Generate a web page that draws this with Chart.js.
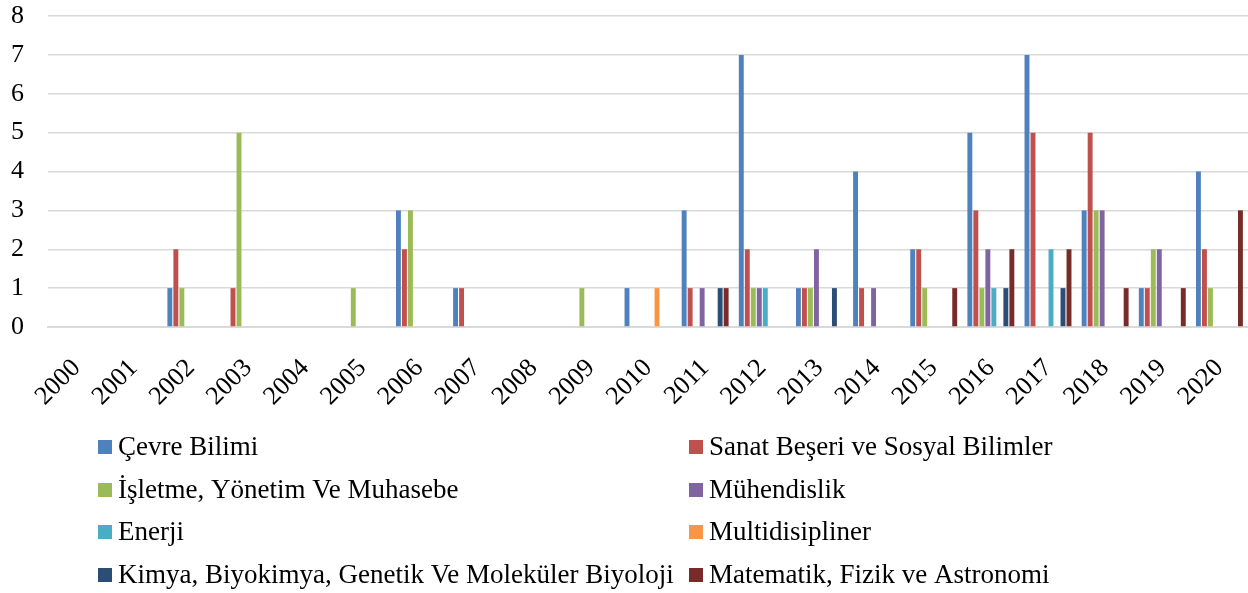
<!DOCTYPE html>
<html>
<head>
<meta charset="utf-8">
<script src="https://cdn.jsdelivr.net/npm/chart.js@4.4.0/dist/chart.umd.min.js"></script>
<style>
  body { margin: 0; background: #fff; }
  #wrap { width: 1248px; height: 593px; position: relative; }
</style>
</head>
<body>
<div id="wrap"><canvas id="chart"></canvas></div>
<script>
const years = ['2000','2001','2002','2003','2004','2005','2006','2007','2008','2009','2010',
               '2011','2012','2013','2014','2015','2016','2017','2018','2019','2020'];

const cevre      = [0,0,1,0,0,0,3,1,0,0,1,3,7,1,4,2,5,7,3,1,4];
const sanat      = [0,0,2,1,0,0,2,1,0,0,0,1,2,1,1,2,3,5,5,1,2];
const isletme    = [0,0,1,5,0,1,3,0,0,1,0,0,1,1,0,1,1,0,3,2,1];
const muhendis   = [0,0,0,0,0,0,0,0,0,0,0,1,1,2,1,0,2,0,3,2,0];
const enerji     = [0,0,0,0,0,0,0,0,0,0,0,0,1,0,0,0,1,2,0,0,0];
const multi      = [0,0,0,0,0,0,0,0,0,0,1,0,0,0,0,0,0,0,0,0,0];
const kimya      = [0,0,0,0,0,0,0,0,0,0,0,1,0,1,0,0,1,1,0,0,0];
const matematik  = [0,0,0,0,0,0,0,0,0,0,0,1,0,0,0,1,2,2,1,1,3];

const seriesNames = ['Çevre Bilimi', 'Sanat Beşeri ve Sosyal Bilimler', 'İşletme, Yönetim Ve Muhasebe',
  'Mühendislik', 'Enerji', 'Multidisipliner', 'Kimya, Biyokimya, Genetik Ve Moleküler Biyoloji',
  'Matematik, Fizik ve Astronomi'];
const seriesData = [cevre, sanat, isletme, muhendis, enerji, multi, kimya, matematik];
const colors = ['#4F81BD', '#C0504D', '#9BBB59', '#8064A2', '#4BACC6', '#F79646', '#2C4D75', '#772C2A'];

const yTicks = [0,1,2,3,4,5,6,7,8];
const FONT = '"Liberation Serif", serif';

// legend drawn in two columns like the original
const gridLegend = {
  id: 'gridLegend',
  afterDraw(chart) {
    const c = chart.ctx;
    const rowsY = [447, 490, 532, 575];
    const colX = [98, 689];
    c.save();
    c.font = '27px ' + FONT;
    c.textBaseline = 'middle';
    chart.data.datasets.forEach((ds, i) => {
      const x = colX[i % 2];
      const y = rowsY[Math.floor(i / 2)];
      c.fillStyle = ds.backgroundColor;
      c.fillRect(x, y - 7, 14, 14);
      c.fillStyle = '#000';
      c.fillText(ds.label, x + 20, y + 1);
    });
    c.restore();
  }
};

const ctx = document.getElementById('chart').getContext('2d');
new Chart(ctx, {
  type: 'bar',
  data: {
    labels: years,
    datasets: seriesData.map((d, i) => ({
      label: seriesNames[i],
      data: d,
      backgroundColor: colors[i],
      borderWidth: 0,
      categoryPercentage: 0.84,
      barPercentage: 0.82
    }))
  },
  options: {
    responsive: true,
    maintainAspectRatio: false,
    animation: false,
    layout: { padding: { top: 16, right: 0, left: 0, bottom: 0 } },
    plugins: {
      legend: { display: false },
      tooltip: { enabled: false }
    },
    scales: {
      x: {
        grid: { display: false },
        border: { color: '#d9d9d9', width: 2 },
        ticks: {
          color: '#000',
          font: { family: FONT, size: 26 },
          minRotation: 45,
          maxRotation: 45,
          padding: 18
        },
        afterFit(scale) {
          scale.height = 266;
          scale.paddingLeft = 0;
          scale.paddingRight = 0;
        }
      },
      y: {
        min: 0,
        max: 8,
        afterBuildTicks(scale) { scale.ticks = yTicks.map(v => ({ value: v })); },
        grid: { color: '#d9d9d9', lineWidth: 1.5, drawTicks: false },
        border: { display: false },
        ticks: {
          color: '#000',
          font: { family: FONT, size: 26 },
          padding: 24
        },
        afterFit(scale) {
          scale.width = 48;
          scale.paddingTop = 0;
          scale.paddingBottom = 0;
        }
      }
    }
  },
  plugins: [gridLegend]
});
</script>
</body>
</html>
